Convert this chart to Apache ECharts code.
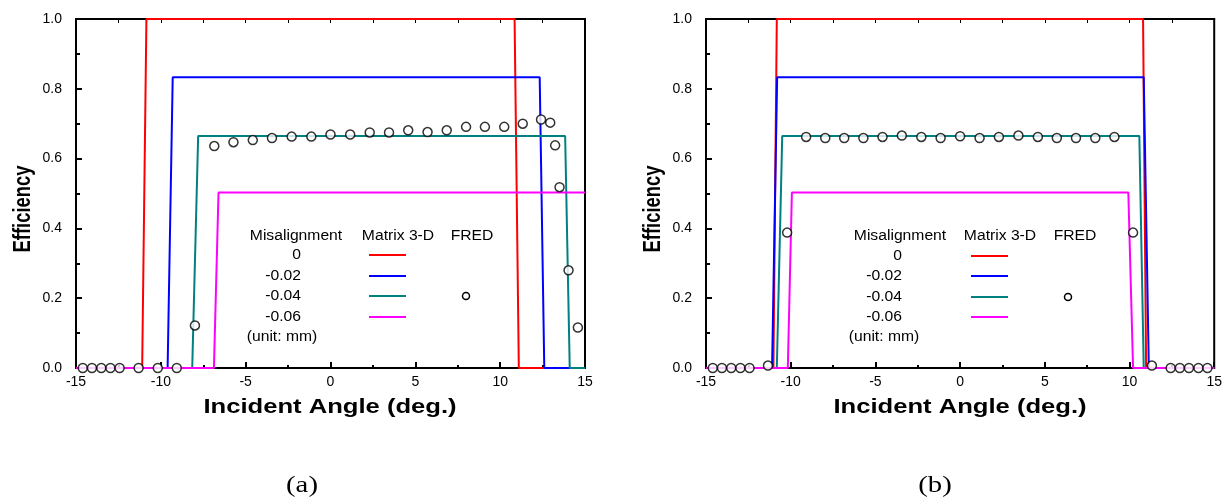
<!DOCTYPE html>
<html>
<head>
<meta charset="utf-8">
<script src="https://cdn.jsdelivr.net/npm/echarts@6/dist/echarts.min.js"></script>
<style>
  html, body { margin: 0; padding: 0; background: #fff; }
  #main { width: 1225px; height: 500px; }
</style>
</head>
<body>
<div id="main"></div>
<script>
// 数据 (a) 图
const xTicks = [-15, -10, -5, 0, 5, 10, 15];
const yTicks = [0, 0.2, 0.4, 0.6, 0.8, 1.0];

const redA = [[-15, 0], [-11.1, 0], [-10.85, 1], [10.85, 1], [11.1, 0], [15, 0]];
const blueA = [[-15, 0], [-9.6, 0], [-9.3, 0.833], [12.33, 0.833], [12.6, 0], [15, 0]];
const tealA = [[-15, 0], [-8.15, 0], [-7.8, 0.665], [13.83, 0.665], [14.1, 0], [15, 0]];
const magentaA = [[-15, 0], [-6.87, 0], [-6.6, 0.503], [15, 0.503]];
const fredA = [
  [-14.6, 0], [-14.06, 0], [-13.51, 0], [-12.97, 0], [-12.43, 0], [-11.31, 0], [-10.18, 0], [-9.06, 0],
  [-7.99, 0.122], [-6.85, 0.636], [-5.72, 0.647], [-4.58, 0.653], [-3.45, 0.659], [-2.29, 0.663],
  [-1.13, 0.663], [0, 0.669], [1.16, 0.669], [2.31, 0.675], [3.45, 0.675], [4.58, 0.681],
  [5.72, 0.676], [6.85, 0.681], [7.99, 0.691], [9.1, 0.691], [10.24, 0.691], [11.33, 0.7],
  [12.41, 0.712], [12.95, 0.703], [13.24, 0.638], [13.5, 0.518], [14.03, 0.28], [14.58, 0.116]
];

// 数据 (b) 图
const redB = [[-15, 0], [-11.02, 0], [-10.82, 1], [10.8, 1], [10.98, 0], [15, 0]];
const blueB = [[-15, 0], [-11.1, 0], [-10.8, 0.833], [10.84, 0.833], [11.14, 0], [15, 0]];
const tealB = [[-15, 0], [-10.82, 0], [-10.5, 0.665], [10.58, 0.665], [10.84, 0], [15, 0]];
const magentaB = [[-15, 0], [-10.17, 0], [-9.93, 0.503], [9.93, 0.503], [10.21, 0], [15, 0]];
const fredB = [
  [-14.6, 0], [-14.06, 0], [-13.51, 0], [-12.97, 0], [-12.43, 0], [-11.34, 0.007], [-10.21, 0.388],
  [-9.09, 0.662], [-7.96, 0.659], [-6.84, 0.659], [-5.71, 0.659], [-4.58, 0.662], [-3.44, 0.666],
  [-2.29, 0.662], [-1.15, 0.659], [0, 0.664], [1.15, 0.659], [2.29, 0.662], [3.44, 0.666],
  [4.59, 0.662], [5.71, 0.659], [6.84, 0.659], [7.98, 0.659], [9.11, 0.662], [10.21, 0.388],
  [11.32, 0.007], [12.43, 0], [12.97, 0], [13.51, 0], [14.07, 0], [14.6, 0]
];

const legendRows = ['0', '-0.02', '-0.04', '-0.06'];
const colors = ['#ff0000', '#0000ff', '#008080', '#ff00ff'];

const FONT = 'Liberation Sans, Arial, sans-serif';

function bottomAxis(grid) {
  return {
    type: 'value', gridIndex: grid, position: 'bottom',
    min: xTicks[0], max: xTicks[xTicks.length - 1], interval: 5,
    axisLine: { onZero: false, lineStyle: { color: '#000', width: 2 } },
    axisTick: { inside: true, length: 6, lineStyle: { color: '#000', width: 2 } },
    minorTick: { show: true, splitNumber: 2, length: 3, lineStyle: { color: '#000', width: 2 } },
    splitLine: { show: false },
    axisLabel: { color: '#000', fontSize: 14, fontFamily: FONT, margin: 7 }
  };
}
function topAxis(grid) {
  return {
    type: 'value', gridIndex: grid, position: 'top',
    min: -15, max: 15, interval: 2.5,
    axisLine: { onZero: false, lineStyle: { color: '#000', width: 2 } },
    axisTick: { inside: true, length: 4, lineStyle: { color: '#000', width: 1 } },
    splitLine: { show: false },
    axisLabel: { show: false }
  };
}
function leftAxis(grid) {
  return {
    type: 'value', gridIndex: grid, position: 'left',
    min: yTicks[0], max: yTicks[yTicks.length - 1], interval: 0.2,
    axisLine: { show: true, onZero: false, lineStyle: { color: '#000', width: 2 } },
    axisTick: { show: true, inside: true, length: 6, lineStyle: { color: '#000', width: 2 } },
    minorTick: { show: true, splitNumber: 2, length: 4, lineStyle: { color: '#000', width: 2 } },
    splitLine: { show: false },
    axisLabel: { color: '#000', fontSize: 14, fontFamily: FONT, margin: 14, formatter: v => v.toFixed(1) }
  };
}

function lineSeries(data, color, grid) {
  return {
    type: 'line', data: data, xAxisIndex: grid, yAxisIndex: grid,
    showSymbol: false, symbol: 'none', animation: false,
    lineStyle: { color: color, width: 2 }
  };
}
function fredSeries(data, grid) {
  return {
    type: 'scatter', data: data, xAxisIndex: grid, yAxisIndex: grid, z: 5,
    symbol: 'circle', symbolSize: 9, animation: false,
    itemStyle: { color: '#fff', borderColor: '#000', borderWidth: 1.5 }
  };
}

// 图例与标题，用 graphic 画
function legendGraphic(p) {
  const els = [];
  const txt = (x, y, s, align) => ({
    type: 'text', x: x, y: y, scaleX: 1.12,
    style: { text: s, font: '14px ' + FONT, fill: '#000', align: align || 'left', verticalAlign: 'middle' }
  });
  els.push(txt(p.misX, p.headY, 'Misalignment', 'center'));
  els.push(txt(p.matX, p.headY, 'Matrix 3-D', 'center'));
  els.push(txt(p.fredX, p.headY, 'FRED', 'center'));
  legendRows.forEach((s, i) => {
    const y = p.rowY[i];
    els.push(txt(p.valRight, y, s, 'right'));
    els.push({
      type: 'line', shape: { x1: p.lineX1, y1: y, x2: p.lineX2, y2: y },
      style: { stroke: colors[i], lineWidth: 2 }
    });
  });
  els.push(txt(p.unitX, p.unitY, '(unit: mm)', 'center'));
  els.push({
    type: 'circle', shape: { cx: p.dotX, cy: p.rowY[2], r: 3.5 }, z: 10,
    style: { fill: '#fff', stroke: '#000', lineWidth: 1.5 }
  });
  return els;
}

function titles(cx, gridLeft) {
  return [
    {
      type: 'text', x: cx, y: 407, scaleX: 1.28,
      style: { text: 'Incident Angle (deg.)', font: 'bold 20px ' + FONT, fill: '#000', align: 'center', verticalAlign: 'middle' }
    },
    {
      type: 'text', x: gridLeft - 52, y: 209, rotation: Math.PI / 2, scaleX: 0.8,
      style: { text: 'Efficiency', font: 'bold 23px ' + FONT, fill: '#000', align: 'center', verticalAlign: 'middle' }
    }
  ];
}

const chart = echarts.init(document.getElementById('main'));
const option = {
  backgroundColor: '#fff',
  animation: false,
  grid: [
    { left: 76, top: 19, width: 509, height: 349, show: true, borderColor: '#000', borderWidth: 2, backgroundColor: 'transparent' },
    { left: 706, top: 19, width: 510, height: 349, show: true, borderColor: '#000', borderWidth: 2, backgroundColor: 'transparent' }
  ],
  xAxis: [bottomAxis(0), bottomAxis(1), topAxis(0), topAxis(1)],
  yAxis: [leftAxis(0), leftAxis(1)],
  series: [
    lineSeries(redA, colors[0], 0),
    lineSeries(blueA, colors[1], 0),
    lineSeries(tealA, colors[2], 0),
    lineSeries(magentaA, colors[3], 0),
    fredSeries(fredA, 0),
    lineSeries(redB, colors[0], 1),
    lineSeries(blueB, colors[1], 1),
    lineSeries(tealB, colors[2], 1),
    lineSeries(magentaB, colors[3], 1),
    fredSeries(fredB, 1)
  ],
  graphic: [].concat(
    legendGraphic({ misX: 296, matX: 398, fredX: 472, headY: 236, rowY: [255, 276, 296, 317],
      valRight: 301, lineX1: 369, lineX2: 406, unitX: 282, unitY: 337, dotX: 466 }),
    legendGraphic({ misX: 900, matX: 1000, fredX: 1075, headY: 236, rowY: [256, 276, 297, 317],
      valRight: 902, lineX1: 971, lineX2: 1008, unitX: 884, unitY: 337, dotX: 1068 }),
    titles(330, 76),
    titles(960, 706),
    [
      { type: 'text', x: 302, y: 486, scaleX: 1.25, style: { text: '(a)', font: '23px Liberation Serif, Times New Roman, serif', fill: '#000', align: 'center', verticalAlign: 'middle' } },
      { type: 'text', x: 935, y: 486, scaleX: 1.25, style: { text: '(b)', font: '23px Liberation Serif, Times New Roman, serif', fill: '#000', align: 'center', verticalAlign: 'middle' } }
    ]
  )
};
chart.setOption(option);
</script>
</body>
</html>
